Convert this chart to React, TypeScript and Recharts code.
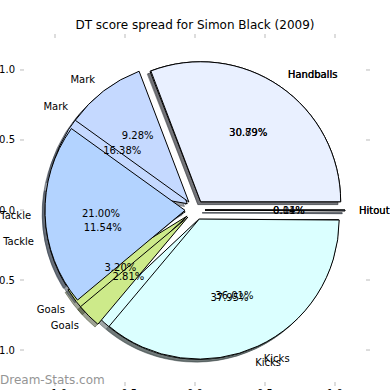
import React from 'react';
import { PieChart, Pie, Sector, ScatterChart, Scatter, XAxis, YAxis } from 'recharts';

// ---- data ----
const categories = ['Handballs', 'Mark', 'Tackle', 'Goals', 'Kicks', 'Hitout'];
const seriesTop = [30.79, 9.28, 21.0, 2.81, 36.01, 0.11];
const seriesUnder = [30.89, 16.38, 11.54, 3.2, 37.95, 0.04];
const sliceColors = ['#E9F0FF', '#C5D9FF', '#B3D3FF', '#CDEA8A', '#DBFFFF', '#B0C4DE'];
const axisTicks = [-1, -0.5, 0, 0.5, 1];
const axisTickLabels = ['\u22121.0', '\u22120.5', '0.0', '0.5', '1.0'];
const titleText = 'DT score spread for Simon Black (2009)';
const watermarkText = 'Dream-Stats.com';

const topData = categories.map((name, i) => ({ name, value: seriesTop[i] }));
const underData = categories.map((name, i) => ({ name, value: seriesUnder[i] }));

// ---- layout ----
const W = 390;
const H = 390;
const CX = 195;
const CY = 210;
const R = 140;
const EXPLODE = 10;
const SHADOW = 2.8;
const FONT = 'DejaVu Sans, Verdana, sans-serif';
const TICK_COLOR = '#bbbbbb';

const shadowColor = (hex: string) => {
  const n = parseInt(hex.slice(1), 16);
  const r = Math.round(((n >> 16) & 255) * 0.3);
  const g = Math.round(((n >> 8) & 255) * 0.3);
  const b = Math.round((n & 255) * 0.3);
  return `rgb(${r},${g},${b})`;
};

const explodeOffset = (mid: number) => {
  const rad = (mid * Math.PI) / 180;
  return [EXPLODE * Math.cos(rad), -EXPLODE * Math.sin(rad)];
};

const renderShadow = (p: any) => {
  const [dx, dy] = explodeOffset(p.midAngle);
  const c = shadowColor(sliceColors[p.index]);
  return (
    <Sector
      cx={p.cx + dx - SHADOW}
      cy={p.cy + dy + SHADOW}
      innerRadius={0}
      outerRadius={p.outerRadius}
      startAngle={p.startAngle}
      endAngle={p.endAngle}
      fill={c}
      fillOpacity={0.5}
      stroke={c}
      strokeOpacity={0.5}
      strokeWidth={1}
    />
  );
};

const renderWedge = (p: any) => {
  const [dx, dy] = explodeOffset(p.midAngle);
  return (
    <Sector
      cx={p.cx + dx}
      cy={p.cy + dy}
      innerRadius={0}
      outerRadius={p.outerRadius}
      startAngle={p.startAngle}
      endAngle={p.endAngle}
      fill={sliceColors[p.index]}
      stroke="#000000"
      strokeWidth={1}
    />
  );
};

const renderTexts = (p: any) => {
  const [dx, dy] = explodeOffset(p.midAngle);
  const rad = (p.midAngle * Math.PI) / 180;
  const cos = Math.cos(rad);
  const sin = Math.sin(rad);
  const ox = p.cx + dx;
  const oy = p.cy + dy;
  const px = ox + 0.6 * p.outerRadius * cos;
  const py = oy - 0.6 * p.outerRadius * sin;
  const lx = ox + 1.1 * p.outerRadius * cos;
  const ly = oy - 1.1 * p.outerRadius * sin;
  return (
    <g>
      <text x={px} y={py} textAnchor="middle" dominantBaseline="central" fontSize={10} fontFamily={FONT} fill="#000">
        {(p.percent * 100).toFixed(2)}%
      </text>
      <text x={lx} y={ly} textAnchor={cos >= 0 ? 'start' : 'end'} dominantBaseline="central" fontSize={10} fontFamily={FONT} fill="#000">
        {p.name}
      </text>
    </g>
  );
};

const tickLabel = (v: number) => axisTickLabels[axisTicks.indexOf(v)] ?? String(v);

const LeftTick = (p: any) => (
  <g>
    <line x1={p.x} x2={p.x + 4} y1={p.y} y2={p.y} stroke={TICK_COLOR} />
    <text x={p.x - 5} y={p.y} textAnchor="end" dominantBaseline="central" fontSize={10} fontFamily={FONT} fill="#000">
      {tickLabel(p.payload.value)}
    </text>
  </g>
);
const RightTick = (p: any) => (
  <g>
    <line x1={p.x} x2={p.x - 4} y1={p.y} y2={p.y} stroke={TICK_COLOR} />
  </g>
);
const TopTick = (p: any) => (
  <g>
    <line x1={p.x} x2={p.x} y1={p.y} y2={p.y + 4} stroke={TICK_COLOR} />
  </g>
);
const BottomTick = (p: any) => (
  <g>
    <line x1={p.x} x2={p.x} y1={p.y} y2={p.y - 4} stroke={TICK_COLOR} />
    <text x={p.x} y={p.y + 11} textAnchor="middle" fontSize={10} fontFamily={FONT} fill="#000">
      {tickLabel(p.payload.value)}
    </text>
  </g>
);

const pieCommon = {
  dataKey: 'value',
  nameKey: 'name',
  cx: CX,
  cy: CY,
  innerRadius: 0,
  outerRadius: R,
  startAngle: 0,
  endAngle: 360,
  isAnimationActive: false,
  fill: 'none',
  stroke: 'none',
  labelLine: false,
} as const;

const axisCommon = {
  type: 'number' as const,
  ticks: axisTicks,
  axisLine: false,
  tickLine: false,
  tickSize: 0,
  tickMargin: 0,
  interval: 0 as const,
  allowDataOverflow: true,
};

export default function App() {
  return (
    <div style={{ position: 'absolute', left: 0, top: 0, width: W, height: H, background: '#fff', overflow: 'hidden' }}>
      <div style={{ position: 'absolute', left: 0, top: 0 }}>
        <ScatterChart width={W} height={H} margin={{ top: 33, right: 19, bottom: 3, left: 19 }}>
          <XAxis {...axisCommon} xAxisId="b" dataKey="x" domain={[-1.25, 1.25]} orientation="bottom" height={1} tick={BottomTick} />
          <XAxis {...axisCommon} xAxisId="t" dataKey="x" domain={[-1.25, 1.25]} orientation="top" height={1} tick={TopTick} />
          <YAxis {...axisCommon} yAxisId="l" dataKey="y" domain={[-1.257, 1.257]} orientation="left" width={1} tick={LeftTick} />
          <YAxis {...axisCommon} yAxisId="r" dataKey="y" domain={[-1.257, 1.257]} orientation="right" width={1} tick={RightTick} />
          <Scatter xAxisId="b" yAxisId="l" data={[]} isAnimationActive={false} />
          <Scatter xAxisId="t" yAxisId="r" data={[]} isAnimationActive={false} />
        </ScatterChart>
      </div>
      <svg style={{ position: 'absolute', left: 0, top: 0 }} width={W} height={H}>
        <text x={195} y={29} textAnchor="middle" fontSize={12} fontFamily={FONT} fill="#000">
          {titleText}
        </text>
        <text x={0} y={384} fontSize={12} fontFamily={FONT} fill="#959595">
          {watermarkText}
        </text>
      </svg>
      <div style={{ position: 'absolute', left: 0, top: 0 }}>
        <PieChart width={W} height={H} margin={{ top: 0, right: 0, bottom: 0, left: 0 }}>
          <Pie {...pieCommon} data={underData} label={renderShadow} />
          <Pie {...pieCommon} data={topData} label={renderShadow} />
          <Pie {...pieCommon} data={underData} label={renderWedge} />
          <Pie {...pieCommon} data={topData} label={renderWedge} />
          <Pie {...pieCommon} data={underData} label={renderTexts} />
          <Pie {...pieCommon} data={topData} label={renderTexts} />
        </PieChart>
      </div>
    </div>
  );
}
